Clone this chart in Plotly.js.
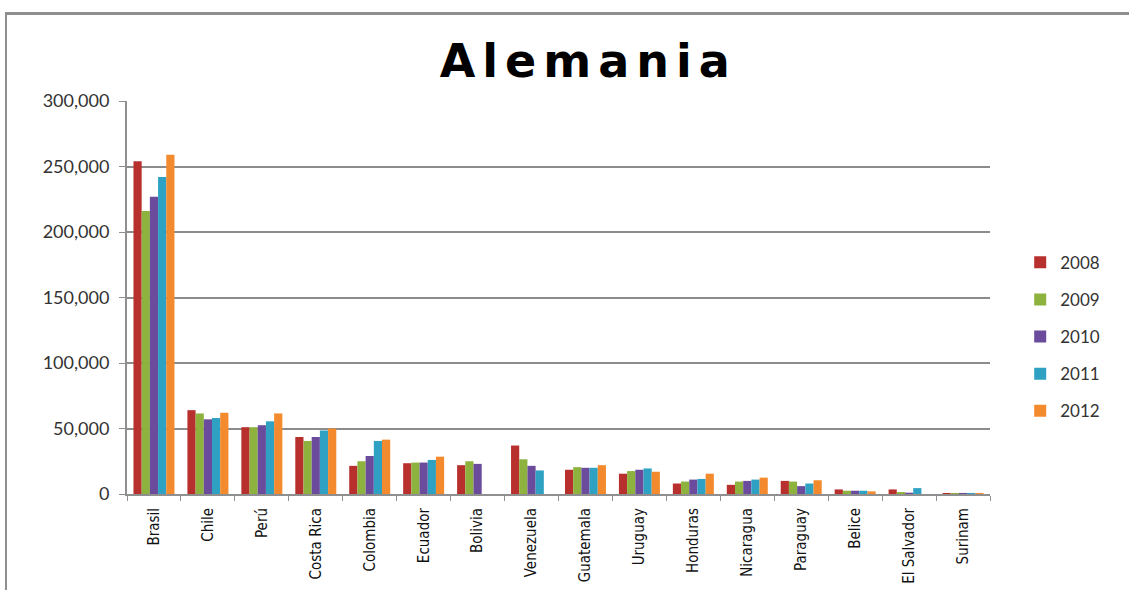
<!DOCTYPE html>
<html>
<head>
<meta charset="utf-8">
<script src="https://cdn.plot.ly/plotly-3.0.1.min.js"></script>
<style>
  html, body { margin: 0; padding: 0; background: #fff; }
  #wrap { position: relative; width: 1129px; height: 590px; }
  #frame { position: absolute; left: 5px; top: 12px; width: 1130px; height: 590px;
           border-top: 3px solid #8f8f8f; border-left: 2px solid #8f8f8f; box-sizing: border-box; }
  #chart { position: absolute; left: 0; top: 0; width: 1129px; height: 590px; }
  .gtitle { letter-spacing: 7px; }
</style>
</head>
<body>
<div id="wrap">
  <div id="frame"></div>
  <div id="chart"></div>
</div>
<script>
const countries = ["Brasil","Chile","Perú","Costa Rica","Colombia","Ecuador","Bolivia","Venezuela",
                   "Guatemala","Uruguay","Honduras","Nicaragua","Paraguay","Belice","El Salvador","Surinam"];
const years = ["2008","2009","2010","2011","2012"];
const v2008 = [254000, 64000, 51000, 43500, 21500, 23500, 22000, 37000, 18500, 15500, 8000, 7000, 10000, 3500, 3500, 800];
const v2009 = [216000, 61500, 51000, 40500, 25000, 24000, 25000, 26500, 20500, 17500, 9500, 9500, 9500, 2500, 1500, 800];
const v2010 = [227000, 57000, 52500, 43500, 29000, 24000, 23000, 21500, 20000, 18500, 11000, 10000, 6000, 2500, 1000, 800];
const v2011 = [242000, 58000, 55500, 48500, 40500, 26000, null, 18000, 20000, 19500, 11500, 11000, 8000, 2500, 4500, 800];
const v2012 = [259000, 62000, 61500, 50000, 41500, 28500, null, null, 22000, 17000, 15500, 12500, 10500, 2000, null, 800];
const yTicks = [0, 50000, 100000, 150000, 200000, 250000, 300000];

const seriesValues = [v2008, v2009, v2010, v2011, v2012];
const colors = ["#b8302e", "#8db33e", "#6b4b9c", "#2fa2c3", "#f38a2e"];

const traces = years.map((yr, i) => ({
  type: "bar",
  name: yr,
  x: countries,
  y: seriesValues[i],
  marker: { color: colors[i], line: { width: 0 } },
  legendgroup: yr,
  hoverinfo: "x+y+name"
}));

const layout = {
  width: 1129, height: 590,
  margin: { l: 127, r: 139, t: 101, b: 96 },
  paper_bgcolor: "rgba(0,0,0,0)",
  plot_bgcolor: "rgba(0,0,0,0)",
  barmode: "group",
  bargap: 0.24,
  bargroupgap: 0,
  title: {
    text: "<b>Alemania</b>",
    font: { family: "DejaVu Sans, Arial", size: 46, color: "#000" },
    x: 0.521, xanchor: "center",
    y: 0.897, yanchor: "middle"
  },
  xaxis: {
    type: "category",
    tickangle: -90,
    ticks: "outside", tickson: "boundaries", ticklen: 5, tickcolor: "#8f8f8f", tickwidth: 1,
    showline: true, linecolor: "#8f8f8f", linewidth: 2,
    ticklabelstandoff: 6,
    tickfont: { family: "Liberation Sans Narrow, DejaVu Sans Condensed, Arial", size: 15, color: "#111" },
    showgrid: false
  },
  yaxis: {
    range: [0, 300000],
    tickvals: yTicks,
    tickformat: ",d",
    ticks: "outside", ticklen: 6, tickcolor: "#8f8f8f",
    showline: true, linecolor: "#8f8f8f", linewidth: 2,
    gridcolor: "#8c8c8c", gridwidth: 2,
    zeroline: false,
    ticklabelstandoff: 6,
    tickfont: { family: "Lato, Open Sans, Arial", size: 18, color: "#333" }
  },
  legend: {
    x: 1.035, xanchor: "left",
    y: 0.40, yanchor: "middle",
    tracegroupgap: 12,
    font: { family: "Lato, Open Sans, Arial", size: 17, color: "#333" },
    bgcolor: "rgba(0,0,0,0)"
  },
  showlegend: true
};

Plotly.newPlot("chart", traces, layout, { displayModeBar: false, staticPlot: true });
</script>
</body>
</html>
